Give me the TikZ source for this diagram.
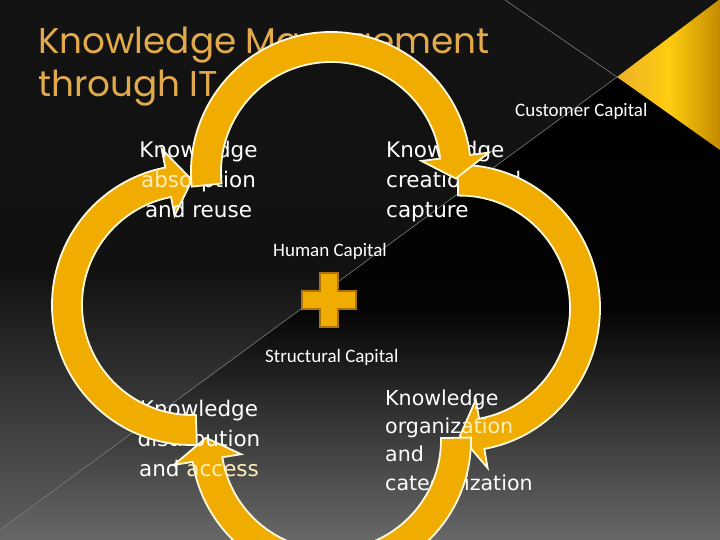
\documentclass[tikz,border=0pt]{standalone}
\usepackage{fontspec}
\setmainfont{DejaVu Sans}
\newfontfamily\titlefont{Poppins}
\newfontfamily\capfont{Carlito}
\newfontfamily\bodyfont{DejaVu Sans}
\usetikzlibrary{calc}
\definecolor{gold}{RGB}{240,172,0}
\definecolor{rim}{RGB}{255,250,222}
\definecolor{titlegold}{RGB}{226,170,74}
\definecolor{pale}{RGB}{255,240,185}
\definecolor{plusedge}{RGB}{168,116,12}
\definecolor{thinline}{RGB}{125,125,125}
\definecolor{bgtop}{RGB}{19,19,19}
\definecolor{bgmid}{RGB}{17,17,17}
\definecolor{bgbot}{RGB}{96,96,96}
\definecolor{lrbot}{RGB}{104,104,104}
\definecolor{lrmid}{RGB}{4,4,4}
\definecolor{trileft}{RGB}{236,176,40}
\definecolor{trimid}{RGB}{255,205,15}
\definecolor{triright}{RGB}{196,138,0}
% #1 centre, #2 tail angle, #3 head base angle, #4 tip angle, #5 vertical stretch
\newcommand{\cyclearrow}[5]{%
  \begin{scope}[shift={(#1)}, yscale=#5]
  \path[arrowshape] (#2:140pt) arc[start angle=#2, end angle=#3, radius=140pt]
    -- (#3:159pt) -- (#4:125pt) -- (#3:91pt)
    -- (#3:110pt) arc[start angle=#3, end angle=#2, radius=110pt] -- cycle;
  \end{scope}}
\begin{document}
\begin{tikzpicture}[x=1pt,y=1pt,
  arrowshape/.style={fill=gold, draw=rim, line width=1.8pt, line join=miter},
  bodytext/.style={text=white, inner sep=0pt, font=\bodyfont\fontsize{21.5}{30}\selectfont},
  captext/.style={text=white, inner sep=0pt, font=\capfont\fontsize{19}{22}\selectfont},
  titletext/.style={text=titlegold, inner sep=0pt, font=\titlefont\fontsize{35.8}{43}\selectfont},
  thinrule/.style={draw=thinline, line width=0.6pt},
  plusshape/.style={fill=gold, draw=plusedge, line width=1.3pt, line join=miter}]
\useasboundingbox (0,0) rectangle (720,540);
\clip (0,0) rectangle (720,540);
% background
\shade[top color=bgtop, bottom color=bgbot, middle color=bgmid] (0,0) rectangle (720,540);
\coordinate (V) at (617,463);
\shade[top color=black, bottom color=lrbot, middle color=lrmid] (V) -- (720,390) -- (720,0) -- (0,0) -- (0,10) -- cycle;
\shade[left color=trileft, right color=triright, middle color=trimid] (V) -- (720,541) -- (720,390) -- cycle;
\coordinate (LA) at (505,540);
\coordinate (LB) at (0,10);
\draw[thinrule] (LA) -- (V);
\draw[thinrule] (LB) -- (V);
% title
\node[titletext, anchor=north west, align=left] (title) at (38,513) {Knowledge Management\\through IT};
% small labels and plus
\node[captext, anchor=base west] (cc) at (515,423.3) {Customer Capital};
\node[captext, anchor=base west] (hc) at (273,283) {Human Capital};
\node[captext, anchor=base west] (sc) at (265,177.5) {Structural Capital};
\coordinate (P) at (329,240);
\draw[plusshape] ($(P)+(-9,27)$) -- ($(P)+(9,27)$) -- ($(P)+(9,9)$) -- ($(P)+(27,9)$) -- ($(P)+(27,-9)$) -- ($(P)+(9,-9)$) -- ($(P)+(9,-27)$) -- ($(P)+(-9,-27)$) -- ($(P)+(-9,-9)$) -- ($(P)+(-27,-9)$) -- ($(P)+(-27,9)$) -- ($(P)+(-9,9)$) -- cycle;
% cycle arrows interleaved with their texts
\coordinate (CT) at (331,368);
\coordinate (CR) at (460,232);
\coordinate (CL) at (192,235);
\coordinate (CB) at (331,100);
\node[bodytext, align=left, anchor=north west] (tr) at (386,399.3) {Knowledge\\creation and\\capture};
\cyclearrow{CR}{91}{-80}{-90}{1.022}
\node[bodytext, font=\bodyfont\fontsize{20.6}{28.3}\selectfont, align=left, anchor=north west] (br) at (385,150.7) {Knowledge\\organiz\textcolor{pale}{ation}\\and\\categorization};
\cyclearrow{CB}{1}{-171}{-181}{1}
\node[bodytext, align=center, anchor=north] (bl) at (199,139.6) {Knowledge\\distribution\\and \textcolor{pale}{access}};
\cyclearrow{CL}{-88}{-259}{-270}{1}
\node[bodytext, align=center, anchor=north] (tl) at (198.5,399.3) {Knowledge\\\textcolor{pale}{abso}rption\\and reuse};
\cyclearrow{CT}{186}{7}{-3}{1}
\end{tikzpicture}
\end{document}
